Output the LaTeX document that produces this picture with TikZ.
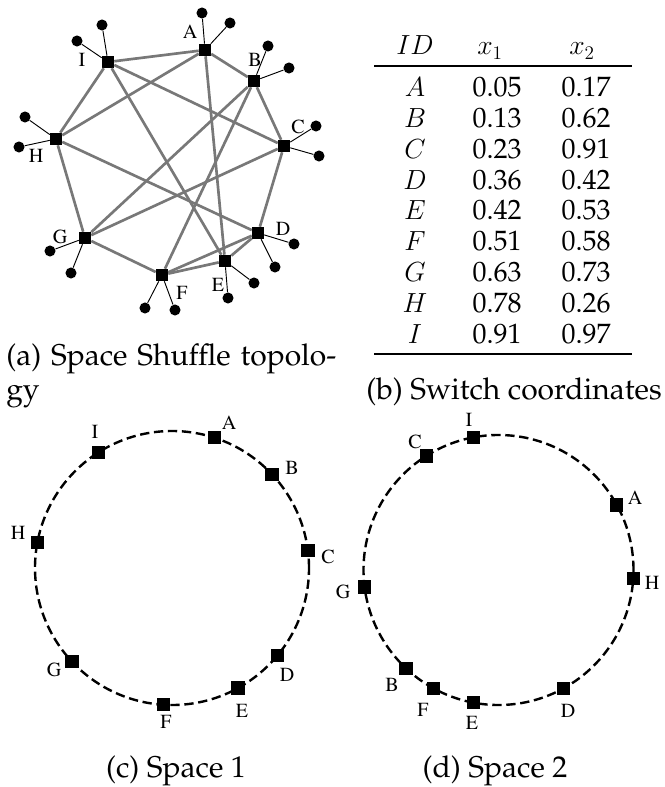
\documentclass[tikz,border=0pt]{standalone}
\usepackage[T1]{fontenc}
\renewcommand{\rmdefault}{ppl}
\usetikzlibrary{calc}
\definecolor{linkgray}{RGB}{120,120,120}
\begin{document}
\begin{tikzpicture}[x=0.75pt,y=-0.75pt,
  sw/.style={rectangle,fill=black,minimum size=9pt,inner sep=0pt},
  swc/.style={rectangle,fill=black,minimum size=10pt,inner sep=0pt},
  host/.style={circle,fill=black,minimum size=8.3pt,inner sep=0pt},
  link/.style={draw=linkgray,line width=2pt},
  hostlink/.style={draw=black,line width=0.7pt},
  lab/.style={font=\fontsize{15}{15}\fontfamily{ptm}\selectfont,inner sep=0pt},
  captext/.style={font=\fontsize{22.5}{27}\selectfont,inner sep=0pt},
  tab/.style={font=\fontsize{21}{25}\selectfont,inner sep=0pt,anchor=base},
  ring/.style={draw=black,line width=1.8pt,dash pattern=on 7pt off 3.5pt},
  tabrule/.style={draw=black,line width=0.9pt}]
\useasboundingbox (0,0) rectangle (664,787);

% ---------- (a) topology ----------
\node[sw] (A) at (205,50) {};
\node[sw] (B) at (254,81) {};
\node[sw] (C) at (284,146) {};
\node[sw] (D) at (258,233) {};
\node[sw] (E) at (225,261) {};
\node[sw] (F) at (162,275) {};
\node[sw] (G) at (85,238) {};
\node[sw] (H) at (56,139) {};
\node[sw] (I) at (108,62) {};

\foreach \u/\v in {I/A,A/B,A/H,A/E,I/H,I/C,I/E,B/C,B/G,B/F,C/D,C/G,H/G,H/D,G/F,F/E,F/D,D/E}
  \draw[link] (\u) -- (\v);

\foreach \s/\x/\y/\t in {A/202/13/1,A/230/23/2,B/268/46/1,B/289/68/2,C/316/126/1,C/319/156/2,
  D/294/244/1,D/275/267/2,E/254/283/1,E/228/298/2,F/145/308/1,F/175/310/2,
  G/50/251/1,G/71/273/2,H/25/117/1,H/19/147/2,I/102/25/1,I/77/41/2}{
  \node[host] (h\s\t) at (\x,\y) {};
  \draw[hostlink] (\s) -- (h\s\t);
}

\foreach \s/\x/\y in {A/190/32,B/255/60,C/298/127,D/283/229,E/218/285,F/182/293,G/60/237,H/36/156,I/82/60}
  \node[lab] (l\s) at (\x,\y) {\s};

% ---------- (b) table ----------
\node[tab] (thID) at (415,55) {$ID$};
\node[tab] (thx1) at (490,55) {$x_1$};
\node[tab] (thx2) at (582,55) {$x_2$};
\coordinate (r1l) at (374,66);
\coordinate (r1r) at (632,66);
\draw[tabrule] (r1l) -- (r1r);
\foreach \s/\a/\b [count=\k from 0] in {A/0.05/0.17,B/0.13/0.62,C/0.23/0.91,D/0.36/0.42,E/0.42/0.53,F/0.51/0.58,G/0.63/0.73,H/0.78/0.26,I/0.91/0.97}{
  \node[tab] (tid\s) at (415,{97+30.75*\k}) {$\s$};
  \node[tab] (ta\s) at (497,{97+30.75*\k}) {\a};
  \node[tab] (tb\s) at (586,{97+30.75*\k}) {\b};
}
\coordinate (r2l) at (374,354);
\coordinate (r2r) at (632,354);
\draw[tabrule] (r2l) -- (r2r);

% ---------- captions a, b ----------
\node[captext,anchor=base west] (capa1) at (6,365) {\makebox[247.5pt][s]{(a) Space Shuffle topolo-}};
\node[captext,anchor=base west] (capa2) at (6,399) {gy};
\node[captext,anchor=base] (capb) at (514,399) {(b) Switch coordinates};

% ---------- (c) Space 1 ----------
\coordinate (c1) at (172,568);
\draw[ring] (c1) circle [radius=102.75pt];
\foreach \s/\v in {A/0.05,B/0.13,C/0.23,D/0.36,E/0.42,F/0.51,G/0.63,H/0.78,I/0.91}
  \node[swc] (p\s) at ([shift={({360*\v-90}:137)}]c1) {};
\foreach \s/\x/\y in {A/229/423,B/292/468,C/328/557,D/287/675,E/242/711,F/166/722,G/54/670,H/18/533,I/95/432}
  \node[lab] (pl\s) at (\x,\y) {\s};

% ---------- (d) Space 2 ----------
\coordinate (c2) at (498.5,570);
\draw[ring] (c2) circle [radius=101.25pt];
\foreach \s/\v in {A/0.17,B/0.62,C/0.91,D/0.42,E/0.53,F/0.58,G/0.73,H/0.26,I/0.97}
  \node[swc] (q\s) at ([shift={({360*\v-90}:135)}]c2) {};
\foreach \s/\x/\y in {A/635/498,B/392/685,C/415/442,D/568/711,E/472/723,F/423/710,G/343/592,H/652/583,I/469/420}
  \node[lab] (ql\s) at (\x,\y) {\s};

% ---------- captions c, d ----------
\node[captext,anchor=base] (capc) at (176,777) {(c) Space 1};
\node[captext,anchor=base] (capd) at (495,777) {(d) Space 2};
\end{tikzpicture}
\end{document}
